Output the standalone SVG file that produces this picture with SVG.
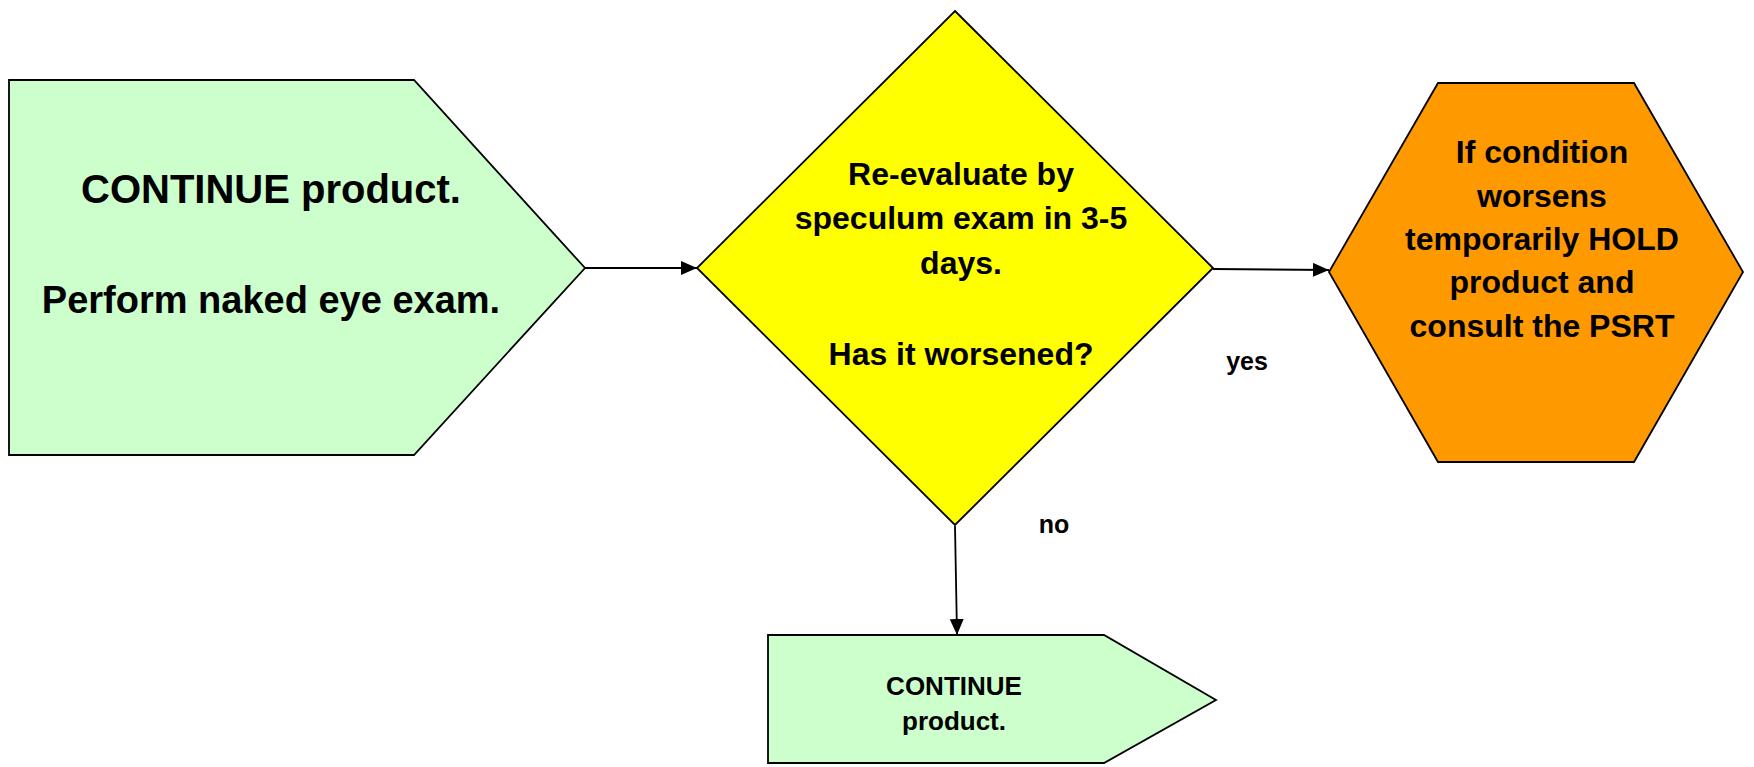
<svg xmlns="http://www.w3.org/2000/svg" width="1754" height="767" viewBox="0 0 1754 767">
<defs>
<style>
.shape{stroke:#000;stroke-width:1.8;stroke-linejoin:miter}
.green{fill:#CCFFCC}
.yellow{fill:#FFFF00}
.orange{fill:#FF9900}
text{font-family:"Liberation Sans",Arial,sans-serif;font-weight:bold;fill:#000;text-anchor:middle}
.conn{stroke:#000;stroke-width:1.8;fill:none}
</style>
<marker id="arrow" viewBox="0 0 16 14" refX="16" refY="7" markerWidth="16" markerHeight="14" markerUnits="userSpaceOnUse" orient="auto">
<path d="M0,0 L16,7 L0,14 Z" fill="#000"/>
</marker>
</defs>
<rect width="1754" height="767" fill="#fff"/>
<g id="connectors">
<line class="conn" x1="585" y1="268" x2="697" y2="268" marker-end="url(#arrow)"/>
<line class="conn" x1="1213" y1="269" x2="1329" y2="270" marker-end="url(#arrow)"/>
<line class="conn" x1="955" y1="526" x2="957" y2="635" marker-end="url(#arrow)"/>
<text x="1247" y="370" font-size="25">yes</text>
<text x="1054" y="533" font-size="25">no</text>
</g>
<g id="node-continue-start">
<polygon class="shape green" points="9,80 414,80 585,268 414,455 9,455"/>
<text x="271" y="203" font-size="40">CONTINUE product.</text>
<text x="271" y="313" font-size="38">Perform naked eye exam.</text>
</g>
<g id="node-reevaluate">
<polygon class="shape yellow" points="955,11 1213,268 955,525 697,268"/>
<text x="961" y="185" font-size="32">Re-evaluate by</text>
<text x="961" y="229" font-size="32">speculum exam in 3-5</text>
<text x="961" y="274" font-size="32">days.</text>
<text x="961" y="365" font-size="32">Has it worsened?</text>
</g>
<g id="node-hold">
<polygon class="shape orange" points="1438,83 1634,83 1743,272 1634,462 1438,462 1329,272"/>
<text x="1542" y="163" font-size="32">If condition</text>
<text x="1542" y="207" font-size="32">worsens</text>
<text x="1542" y="250" font-size="32">temporarily HOLD</text>
<text x="1542" y="293" font-size="32">product and</text>
<text x="1542" y="337" font-size="32">consult the PSRT</text>
</g>
<g id="node-continue-end">
<polygon class="shape green" points="768,635 1104,635 1216,700 1104,763 768,763"/>
<text x="954" y="695" font-size="26">CONTINUE</text>
<text x="954" y="730" font-size="26">product.</text>
</g>
</svg>
